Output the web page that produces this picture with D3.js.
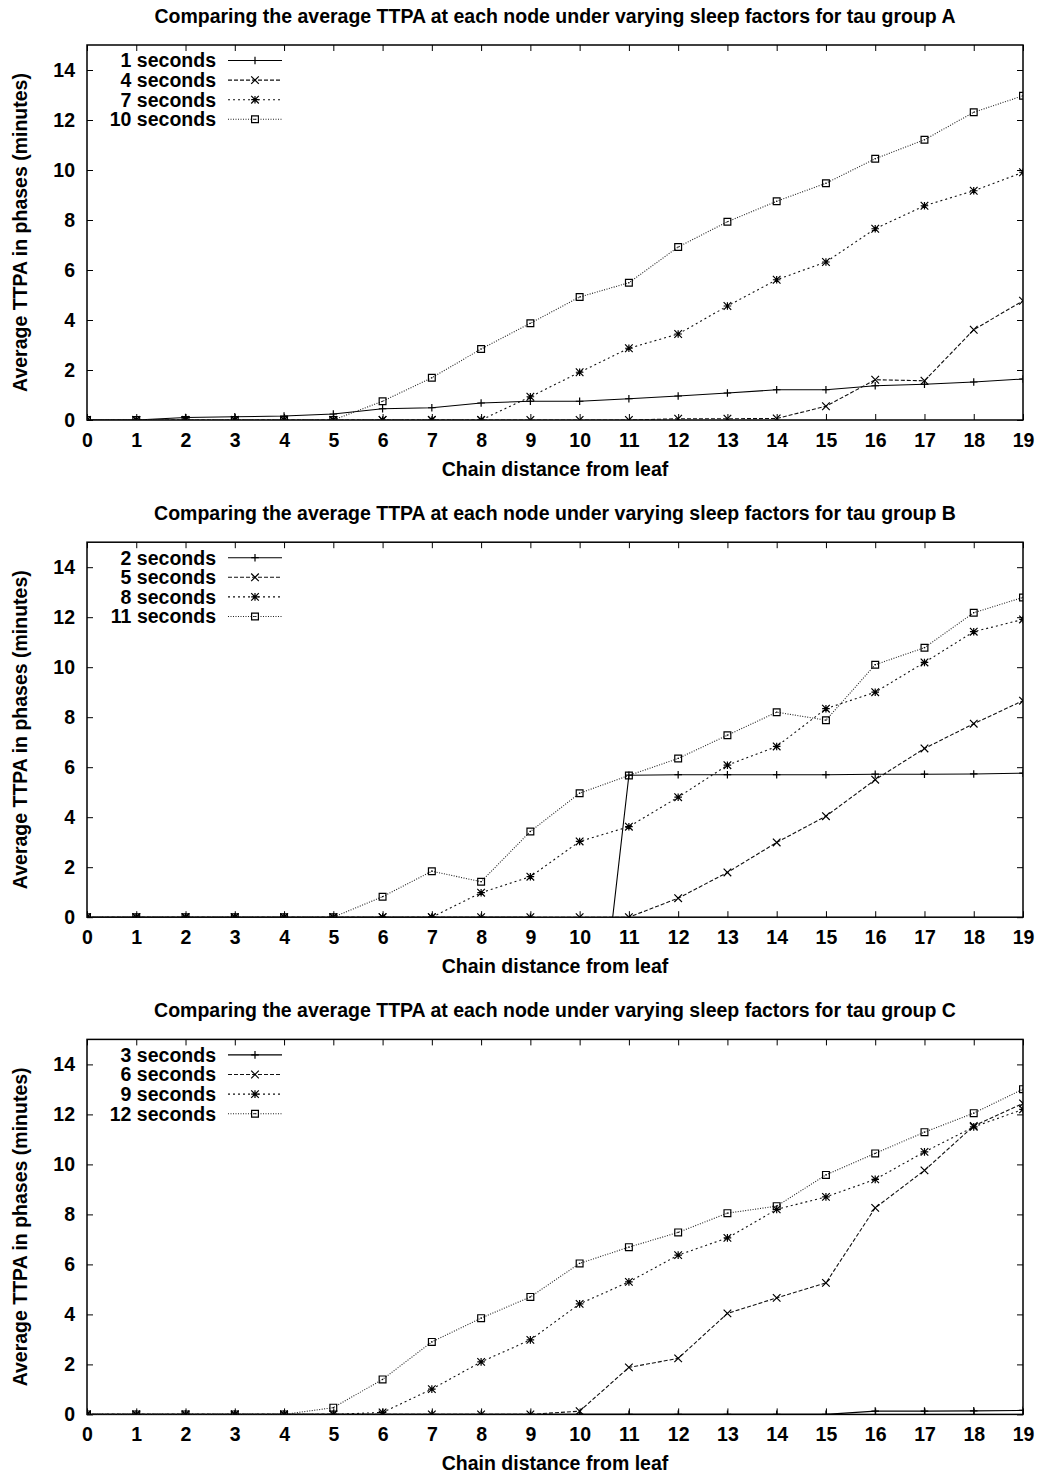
<!DOCTYPE html>
<html>
<head>
<meta charset="utf-8">
<script src="https://cdn.jsdelivr.net/npm/d3@7"></script>
<style>
  body { margin: 0; background: #fff; }
  text { font-family: "Liberation Sans", Arial, Helvetica, sans-serif; font-weight: bold; fill: #000; }
</style>
</head>
<body>
<div id="wrapper"></div>
<script>
// chain distance from leaf (x categories)
const distances = [0, 1, 2, 3, 4, 5, 6, 7, 8, 9, 10, 11, 12, 13, 14, 15, 16, 17, 18, 19]
const yTicks = [0, 2, 4, 6, 8, 10, 12, 14]

const titles = [
    "Comparing the average TTPA at each node under varying sleep factors for tau group A",
    "Comparing the average TTPA at each node under varying sleep factors for tau group B",
    "Comparing the average TTPA at each node under varying sleep factors for tau group C",
]

//* tau group A
const labelsA = ["1 seconds", "4 seconds", "7 seconds", "10 seconds"]
const a1 = [0, 0, 0.1, 0.13, 0.16, 0.24, 0.45, 0.49, 0.68, 0.75, 0.75, 0.85, 0.96, 1.08, 1.21, 1.21, 1.37, 1.43, 1.52, 1.64]
const a4 = [0, 0, 0, 0, 0, 0, 0, 0, 0, 0, 0, 0, 0.05, 0.05, 0.06, 0.55, 1.61, 1.57, 3.61, 4.77]
const a7 = [0, 0, 0, 0, 0, 0, 0, 0, 0, 0.93, 1.91, 2.87, 3.44, 4.56, 5.61, 6.32, 7.65, 8.57, 9.17, 9.91]
const a10 = [0, 0, 0, 0, 0, 0, 0.75, 1.69, 2.84, 3.87, 4.92, 5.49, 6.92, 7.93, 8.75, 9.47, 10.45, 11.21, 12.31, 12.97]

//* tau group B  (2 s value at node 10 sits far below the axis, so it gets clipped)
const labelsB = ["2 seconds", "5 seconds", "8 seconds", "11 seconds"]
const b2 = [0, 0, 0, 0, 0, 0, 0, 0, 0, 0, -11.6, 5.68, 5.7, 5.7, 5.7, 5.7, 5.72, 5.72, 5.73, 5.76]
const b5 = [0, 0, 0, 0, 0, 0, 0, 0, 0, 0, 0, 0, 0.76, 1.79, 2.99, 4.04, 5.5, 6.75, 7.74, 8.66]
const b8 = [0, 0, 0, 0, 0, 0, 0, 0, 0.98, 1.62, 3.03, 3.62, 4.8, 6.08, 6.83, 8.34, 9.0, 10.19, 11.42, 11.91]
const b11 = [0, 0, 0, 0, 0, 0, 0.82, 1.84, 1.42, 3.43, 4.96, 5.67, 6.35, 7.28, 8.2, 7.88, 10.1, 10.78, 12.18, 12.79]

//* tau group C
const labelsC = ["3 seconds", "6 seconds", "9 seconds", "12 seconds"]
const c3 = [0, 0, 0, 0, 0, 0, 0, 0, 0, 0, 0, 0, 0, 0, 0, 0, 0.13, 0.13, 0.14, 0.16]
const c6 = [0, 0, 0, 0, 0, 0, 0, 0, 0, 0, 0.13, 1.88, 2.24, 4.04, 4.66, 5.26, 8.26, 9.76, 11.54, 12.44]
const c9 = [0, 0, 0, 0, 0, 0, 0.08, 1.01, 2.1, 2.98, 4.42, 5.3, 6.37, 7.06, 8.2, 8.7, 9.4, 10.5, 11.5, 12.2]
const c12 = [0, 0, 0, 0, 0, 0.27, 1.4, 2.9, 3.85, 4.7, 6.04, 6.69, 7.28, 8.05, 8.33, 9.58, 10.44, 11.29, 12.05, 13.01]

const groups = [
    { labels: labelsA, series: [a1, a4, a7, a10] },
    { labels: labelsB, series: [b2, b5, b8, b11] },
    { labels: labelsC, series: [c3, c6, c9, c12] },
]

// gnuplot-like line types: solid/+, dashed/x, dotted/*, fine dots/box
const styles = [
    { dash: null, color: "#000", marker: "plus" },
    { dash: "4,2", color: "#111", marker: "cross" },
    { dash: "2,3", color: "#111", marker: "star" },
    { dash: "1,1.5", color: "#222", marker: "box" },
]

function drawPlot() {
    //! set page dimensions
    let dimensions = {
        width: 1043,
        height: 1476,
        left: 87,
        right: 1023,
        panelTop: 45,
        panelStep: 497.2,
        panelHeight: 375,
        fontSize: 19.5,
    }

    const svg = d3.select('#wrapper')
        .append('svg')
        .attr('width', dimensions.width)
        .attr('height', dimensions.height)
        .style("font-size", dimensions.fontSize + "px")

    const xScale = d3.scaleLinear()
        .domain([0, 19])
        .range([dimensions.left, dimensions.right])

    const markerPath = (type, cx, cy) => {
        const s = 3.8
        const plus = `M${cx - s},${cy}H${cx + s}M${cx},${cy - s}V${cy + s}`
        const cross = `M${cx - s},${cy - s}L${cx + s},${cy + s}M${cx - s},${cy + s}L${cx + s},${cy - s}`
        if (type == "plus") return plus
        if (type == "cross") return cross
        if (type == "star") return plus + cross
        const b = 3.4
        return `M${cx - b},${cy - b}H${cx + b}V${cy + b}H${cx - b}Z M${cx - 0.7},${cy}H${cx + 0.7}`
    }

    groups.forEach((group, gi) => {
        const top = dimensions.panelTop + gi * dimensions.panelStep
        const bottom = top + dimensions.panelHeight
        const yScale = d3.scaleLinear()
            .domain([0, 15])
            .range([bottom, top])

        const panel = svg.append("g")

        //* clip path for the plotting area
        const clipId = "clip" + gi
        panel.append("clipPath")
            .attr("id", clipId)
            .append("rect")
            .attr("x", dimensions.left)
            .attr("y", top)
            .attr("width", dimensions.right - dimensions.left)
            .attr("height", dimensions.panelHeight)

        //! axes (inward ticks, mirrored)
        const bottomAxis = d3.axisBottom(xScale)
            .tickValues(distances)
            .tickSizeInner(-6)
            .tickSizeOuter(0)
            .tickPadding(13)
        panel.append("g")
            .attr("transform", `translate(0,${bottom})`)
            .call(bottomAxis)
        panel.append("g")
            .attr("transform", `translate(0,${top})`)
            .call(d3.axisTop(xScale).tickValues(distances).tickSizeInner(-6).tickSizeOuter(0).tickFormat(""))
        const leftAxis = d3.axisLeft(yScale)
            .tickValues(yTicks)
            .tickSizeInner(-6)
            .tickSizeOuter(0)
            .tickPadding(12)
        panel.append("g")
            .attr("transform", `translate(${dimensions.left},0)`)
            .call(leftAxis)
        panel.append("g")
            .attr("transform", `translate(${dimensions.right},0)`)
            .call(d3.axisRight(yScale).tickValues(yTicks).tickSizeInner(-6).tickSizeOuter(0).tickFormat(""))

        panel.selectAll(".domain").remove()
        panel.selectAll(".tick line").attr("stroke", "#000").attr("stroke-width", 1)
        panel.selectAll(".tick text")
            .attr("font-family", "Liberation Sans, Arial, sans-serif")
            .attr("font-weight", "bold")
            .attr("font-size", dimensions.fontSize)
            .attr("fill", "#000")

        //* frame
        panel.append("rect")
            .attr("x", dimensions.left)
            .attr("y", top)
            .attr("width", dimensions.right - dimensions.left)
            .attr("height", dimensions.panelHeight)
            .attr("fill", "none")
            .attr("stroke", "#000")
            .attr("stroke-width", 1.5)

        //! series lines + markers
        const line = d3.line()
            .x((d, i) => xScale(distances[i]))
            .y(d => yScale(d))
        const plotArea = panel.append("g").attr("clip-path", `url(#${clipId})`)
        group.series.forEach((values, si) => {
            const st = styles[si]
            plotArea.append("path")
                .datum(values)
                .attr("d", line)
                .attr("fill", "none")
                .attr("stroke", st.color)
                .attr("stroke-width", 1.1)
                .attr("stroke-dasharray", st.dash)
            plotArea.selectAll(null)
                .data(values)
                .join("path")
                .attr("d", (d, i) => markerPath(st.marker, xScale(distances[i]), yScale(d)))
                .attr("fill", "none")
                .attr("stroke", "#000")
                .attr("stroke-width", 1.2)
        })

        //! legend
        const legend = panel.append("g")
        group.labels.forEach((label, li) => {
            const st = styles[li]
            const ly = top + 15.5 + li * 19.6
            legend.append("text")
                .attr("x", dimensions.left + 129)
                .attr("y", ly)
                .attr("dy", "0.35em")
                .attr("text-anchor", "end")
                .text(label)
            legend.append("line")
                .attr("x1", dimensions.left + 141)
                .attr("x2", dimensions.left + 195)
                .attr("y1", ly)
                .attr("y2", ly)
                .attr("stroke", st.color)
                .attr("stroke-width", 1.1)
                .attr("stroke-dasharray", st.dash)
            legend.append("path")
                .attr("d", markerPath(st.marker, dimensions.left + 168, ly))
                .attr("fill", "none")
                .attr("stroke", "#000")
                .attr("stroke-width", 1.2)
        })

        //! titles
        const midX = (dimensions.left + dimensions.right) / 2
        panel.append("text")
            .attr("x", midX)
            .attr("y", top - 22)
            .attr("text-anchor", "middle")
            .text(titles[gi])
        panel.append("text")
            .attr("x", midX)
            .attr("y", bottom + 55.5)
            .attr("text-anchor", "middle")
            .text("Chain distance from leaf")
        panel.append("text")
            .attr("transform", `translate(26.5,${(top + bottom) / 2}) rotate(-90)`)
            .attr("text-anchor", "middle")
            .text("Average TTPA in phases (minutes)")
    })
}

drawPlot()
</script>
</body>
</html>
